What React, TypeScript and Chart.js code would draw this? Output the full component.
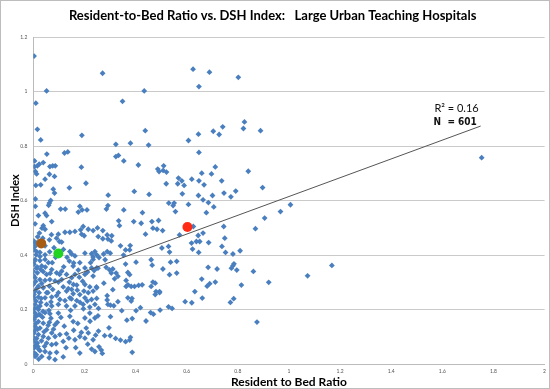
import React, { useEffect, useRef } from "react";
import { Chart, registerables } from "chart.js";

Chart.register(...registerables);

const chartTitle = "Resident-to-Bed Ratio vs. DSH Index:   Large Urban Teaching Hospitals";
const xAxisTitle = "Resident to Bed Ratio";
const yAxisTitle = "DSH Index";
const rSquaredLabel = "R\u00B2 = 0.16";
const countLabel = "N  = 601";

// Trendline endpoints
const trendX = [0, 1.75];
const trendY = [0.27, 0.874];

// Highlighted hospitals
const highlightX = [0.031, 0.098, 0.603];
const highlightY = [0.443, 0.406, 0.503];
const highlightColors = ["#a65c14", "#22d422", "#ff2b14"];

// Hospital points [resident-to-bed ratio, DSH index]
const upperBand: [number, number][] = [
  [0.003, 1.131], [0.01, 0.958], [0.052, 1.003], [0.016, 0.862], [0.029, 0.823], [0.271, 1.068],
  [0.349, 0.965], [0.434, 1.003], [0.438, 0.857], [0.451, 0.804], [0.323, 0.807], [0.38, 0.811],
  [0.19, 0.84], [0.625, 1.083], [0.648, 1.019], [0.607, 0.821], [0.646, 0.844], [0.053, 0.771],
  [0.005, 0.746], [0.005, 0.725], [0.016, 0.728], [0.008, 0.707], [0.013, 0.698], [0.023, 0.734],
  [0.039, 0.74], [0.065, 0.725], [0.076, 0.728], [0.086, 0.728], [0.063, 0.697], [0.083, 0.689],
  [0.046, 0.679], [0.01, 0.656], [0.029, 0.658], [0.078, 0.642], [0.083, 0.628], [0.141, 0.647],
  [0.122, 0.775], [0.135, 0.779], [0.188, 0.723], [0.206, 0.664], [0.008, 0.606], [0.008, 0.579],
  [0.063, 0.591], [0.06, 0.583], [0.068, 0.601], [0.107, 0.569], [0.125, 0.569], [0.182, 0.579],
  [0.21, 0.566], [0.293, 0.62], [0.292, 0.582], [0.286, 0.569], [0.323, 0.762], [0.333, 0.766],
  [0.354, 0.746], [0.411, 0.731], [0.395, 0.634], [0.453, 0.623], [0.487, 0.716], [0.492, 0.707],
  [0.51, 0.728], [0.508, 0.711], [0.521, 0.705], [0.52, 0.662], [0.53, 0.591], [0.551, 0.591],
  [0.568, 0.683], [0.565, 0.662], [0.581, 0.673], [0.59, 0.656], [0.583, 0.625], [0.607, 0.586],
  [0.62, 0.679], [0.648, 0.777], [0.648, 0.673], [0.646, 0.619], [0.354, 0.566],
  [0.689, 1.072], [0.802, 1.053], [0.704, 0.855], [0.727, 0.843], [0.741, 0.871], [0.822, 0.865],
  [0.826, 0.889], [0.889, 0.857], [0.712, 0.724], [0.659, 0.701], [0.697, 0.698], [0.668, 0.658],
  [0.737, 0.673], [0.841, 0.708], [0.701, 0.619], [0.664, 0.603], [0.685, 0.593], [0.746, 0.628],
  [0.773, 0.614], [0.792, 0.635], [0.897, 0.648], [0.706, 0.577], [1.006, 0.585],
];

const rightBand: [number, number][] = [
  [0.677, 0.556], [0.967, 0.56], [0.905, 0.536], [0.869, 0.497], [0.626, 0.505], [0.745, 0.505],
  [0.664, 0.481], [0.645, 0.472], [0.749, 0.462], [0.619, 0.444], [0.638, 0.45], [0.651, 0.45],
  [0.686, 0.446], [0.738, 0.432], [0.623, 0.422], [0.647, 0.41], [0.752, 0.41], [0.781, 0.404],
  [0.809, 0.416], [1.168, 0.362], [1.073, 0.324], [0.684, 0.355], [0.719, 0.349], [0.775, 0.352],
  [0.781, 0.361], [0.785, 0.368], [0.796, 0.345], [0.861, 0.34], [0.659, 0.312], [0.712, 0.301],
  [0.69, 0.295], [0.68, 0.286], [0.814, 0.29], [0.921, 0.3], [0.632, 0.266], [0.62, 0.225],
  [0.661, 0.242], [0.771, 0.226], [0.784, 0.24], [0.875, 0.154], [1.754, 0.758],
  [0.427, 0.556], [0.49, 0.527], [0.556, 0.56], [0.547, 0.582], [0.506, 0.49], [0.251, 0.5],
  [0.234, 0.49],
];

const centerBand: [number, number][] = [
  [0.334, 0.526], [0.337, 0.508], [0.393, 0.523], [0.422, 0.517], [0.464, 0.523], [0.468, 0.499],
  [0.484, 0.495], [0.272, 0.49], [0.289, 0.474], [0.307, 0.471], [0.292, 0.459], [0.305, 0.452],
  [0.272, 0.46], [0.439, 0.477], [0.341, 0.434], [0.379, 0.435], [0.361, 0.419], [0.377, 0.419],
  [0.289, 0.413], [0.301, 0.407], [0.275, 0.404], [0.353, 0.4], [0.503, 0.426], [0.529, 0.432],
  [0.533, 0.411], [0.572, 0.474], [0.257, 0.391], [0.281, 0.383], [0.402, 0.374], [0.361, 0.367],
  [0.461, 0.383], [0.465, 0.363], [0.537, 0.374], [0.561, 0.377], [0.285, 0.355], [0.298, 0.346],
  [0.311, 0.349], [0.305, 0.334], [0.324, 0.334], [0.331, 0.322], [0.37, 0.336], [0.377, 0.328],
  [0.318, 0.313], [0.363, 0.307], [0.37, 0.291], [0.507, 0.349], [0.533, 0.328], [0.561, 0.334],
  [0.468, 0.301], [0.477, 0.297], [0.276, 0.297], [0.311, 0.273], [0.363, 0.285], [0.383, 0.285],
  [0.396, 0.285], [0.412, 0.289], [0.426, 0.291], [0.461, 0.285], [0.48, 0.266], [0.494, 0.266],
  [0.253, 0.352],
];

const lowCenterBand: [number, number][] = [
  [0.289, 0.251], [0.289, 0.235], [0.302, 0.216], [0.315, 0.214], [0.292, 0.219], [0.331, 0.229],
  [0.37, 0.243], [0.383, 0.231], [0.386, 0.241], [0.346, 0.196], [0.402, 0.196], [0.419, 0.207],
  [0.477, 0.255], [0.494, 0.262], [0.459, 0.189], [0.47, 0.183], [0.496, 0.198], [0.529, 0.21],
  [0.543, 0.204], [0.594, 0.229], [0.255, 0.204], [0.253, 0.177], [0.302, 0.174], [0.366, 0.161],
  [0.387, 0.167], [0.441, 0.158], [0.296, 0.133], [0.255, 0.121], [0.279, 0.104], [0.301, 0.104],
  [0.322, 0.094], [0.341, 0.088], [0.361, 0.082], [0.38, 0.098], [0.377, 0.088], [0.257, 0.063],
  [0.266, 0.051], [0.27, 0.039], [0.387, 0.043],
];

const leftUpperCluster: [number, number][] = [
  [0.02, 0.545], [0.046, 0.554], [0.052, 0.545], [0.191, 0.566], [0.176, 0.558], [0.007, 0.515],
  [0.039, 0.508], [0.046, 0.495], [0.072, 0.523], [0.195, 0.505], [0.185, 0.493], [0.215, 0.495],
  [0.189, 0.477], [0.199, 0.471], [0.098, 0.477], [0.124, 0.484], [0.143, 0.484], [0.163, 0.487],
  [0.091, 0.462], [0.102, 0.45], [0.111, 0.448], [0.254, 0.468], [0.046, 0.434], [0.003, 0.419],
  [0.013, 0.413], [0.026, 0.41], [0.011, 0.401], [0.026, 0.395], [0.046, 0.401], [0.143, 0.413],
  [0.15, 0.404], [0.163, 0.397], [0.202, 0.407], [0.228, 0.405], [0.241, 0.413], [0.248, 0.401],
  [0.234, 0.393], [0.003, 0.444], [0.013, 0.444], [0.034, 0.499],
];

const leftMidCluster: [number, number][] = [
  [0.007, 0.384], [0.026, 0.38], [0.046, 0.384], [0.059, 0.372], [0.141, 0.378], [0.182, 0.372],
  [0.234, 0.384], [0.003, 0.366], [0.016, 0.356], [0.033, 0.36], [0.156, 0.36], [0.202, 0.353],
  [0.228, 0.353], [0.248, 0.353], [0.0, 0.341], [0.016, 0.335], [0.039, 0.339], [0.052, 0.329],
  [0.072, 0.347], [0.091, 0.335], [0.111, 0.341], [0.13, 0.329], [0.163, 0.329], [0.18, 0.319],
  [0.202, 0.329], [0.234, 0.323], [0.007, 0.317], [0.026, 0.31], [0.046, 0.307], [0.065, 0.31],
  [0.085, 0.305], [0.111, 0.31], [0.15, 0.317], [0.0, 0.292], [0.02, 0.286], [0.039, 0.28],
  [0.063, 0.286], [0.076, 0.274], [0.117, 0.283], [0.137, 0.277], [0.17, 0.29], [0.202, 0.292],
  [0.221, 0.283], [0.248, 0.28], [0.007, 0.268], [0.023, 0.262], [0.052, 0.262], [0.098, 0.262],
  [0.13, 0.268], [0.15, 0.274], [0.156, 0.258], [0.182, 0.255], [0.215, 0.262], [0.234, 0.268],
  [0.003, 0.243], [0.02, 0.246], [0.046, 0.243], [0.072, 0.246], [0.104, 0.237], [0.124, 0.233],
  [0.143, 0.243], [0.17, 0.233], [0.202, 0.243], [0.228, 0.237], [0.248, 0.241], [0.007, 0.219],
  [0.026, 0.213], [0.052, 0.219], [0.072, 0.213], [0.098, 0.219], [0.13, 0.213], [0.163, 0.213],
  [0.195, 0.219], [0.221, 0.209], [0.241, 0.219], [0.0, 0.194], [0.02, 0.2],
];

const leftLowCluster: [number, number][] = [
  [0.007, 0.187], [0.026, 0.181], [0.046, 0.189], [0.065, 0.185], [0.098, 0.187], [0.143, 0.175],
  [0.156, 0.156], [0.202, 0.169], [0.221, 0.187], [0.241, 0.169], [0.003, 0.163], [0.02, 0.156],
  [0.039, 0.15], [0.063, 0.153], [0.085, 0.144], [0.007, 0.138], [0.026, 0.132], [0.052, 0.126],
  [0.072, 0.114], [0.003, 0.114], [0.02, 0.108], [0.039, 0.101], [0.059, 0.095], [0.085, 0.101],
  [0.104, 0.108], [0.13, 0.111], [0.163, 0.089], [0.182, 0.101], [0.202, 0.095], [0.215, 0.114],
  [0.234, 0.089], [0.003, 0.083], [0.016, 0.077], [0.052, 0.077], [0.072, 0.071], [0.117, 0.083],
  [0.003, 0.059], [0.02, 0.055], [0.046, 0.046], [0.065, 0.04], [0.091, 0.043], [0.182, 0.04],
  [0.228, 0.055], [0.241, 0.046], [0.007, 0.028], [0.033, 0.028], [0.085, 0.016],
];

const leftDenseColumn: [number, number][] = [
  [0.002, 0.452], [0.006, 0.431], [0.004, 0.377], [0.012, 0.352], [0.001, 0.325], [0.009, 0.303],
  [0.014, 0.278], [0.003, 0.255], [0.011, 0.231], [0.017, 0.207], [0.004, 0.204], [0.012, 0.176],
  [0.001, 0.171], [0.009, 0.148], [0.016, 0.127], [0.005, 0.124], [0.013, 0.094], [0.002, 0.097],
  [0.008, 0.068], [0.018, 0.064], [0.004, 0.041], [0.012, 0.034], [0.022, 0.181], [0.029, 0.226],
  [0.033, 0.296], [0.031, 0.241], [0.036, 0.172], [0.042, 0.118], [0.044, 0.065], [0.057, 0.262],
  [0.061, 0.197], [0.069, 0.168], [0.079, 0.128], [0.089, 0.074], [0.094, 0.153], [0.108, 0.171],
  [0.121, 0.139], [0.128, 0.06], [0.139, 0.095], [0.146, 0.197], [0.158, 0.124], [0.166, 0.06],
  [0.174, 0.149], [0.188, 0.116], [0.196, 0.203], [0.207, 0.132], [0.213, 0.073], [0.222, 0.157],
  [0.244, 0.106], [0.247, 0.283], [0.238, 0.343], [0.224, 0.372], [0.212, 0.338], [0.193, 0.304],
  [0.176, 0.345], [0.158, 0.371], [0.132, 0.392], [0.119, 0.357], [0.087, 0.392], [0.074, 0.372],
  [0.064, 0.412], [0.081, 0.427], [0.118, 0.421], [0.063, 0.456], [0.071, 0.475], [0.024, 0.481],
  [0.017, 0.467], [0.037, 0.462], [0.029, 0.347], [0.047, 0.356], [0.066, 0.333], [0.098, 0.301],
  [0.103, 0.329], [0.141, 0.301], [0.157, 0.292], [0.172, 0.271], [0.198, 0.268], [0.211, 0.231],
  [0.183, 0.226], [0.149, 0.239], [0.091, 0.251], [0.069, 0.228], [0.038, 0.193], [0.058, 0.142],
  [0.032, 0.085], [0.026, 0.049], [0.117, 0.026], [0.062, 0.023], [0.021, 0.018],
];

const FONT = "Lato, 'Open Sans', sans-serif";

const decorPlugin = {
  id: "decor",
  afterDraw(chart: any) {
    const ctx = chart.ctx as CanvasRenderingContext2D;
    const xs = chart.scales.x;
    const ys = chart.scales.y;
    ctx.save();
    ctx.fillStyle = "#111";
    ctx.textAlign = "left";
    ctx.textBaseline = "middle";
    ctx.font = `11px ${FONT}`;
    ctx.fillText(rSquaredLabel, xs.getPixelForValue(1.569), ys.getPixelForValue(0.937));
    ctx.font = `bold 10px 'Liberation Sans Narrow', 'DejaVu Sans Condensed', ${FONT}`;
    ctx.fillText(countLabel, xs.getPixelForValue(1.566), ys.getPixelForValue(0.889));
    ctx.strokeStyle = "#bdbdbd";
    ctx.lineWidth = 1;
    ctx.strokeRect(0.5, 0.5, chart.width - 1, chart.height - 1);
    ctx.restore();
  },
};

export default function App() {
  const canvasRef = useRef<HTMLCanvasElement | null>(null);

  useEffect(() => {
    const canvas = canvasRef.current;
    if (!canvas) return;
    const hospitals = [
      ...upperBand, ...rightBand, ...centerBand, ...lowCenterBand,
      ...leftUpperCluster, ...leftMidCluster, ...leftLowCluster, ...leftDenseColumn,
    ].map(([x, y]) => ({ x, y }));
    const fmt = (v: any) => String(Number(Number(v).toFixed(1)));

    const chart = new Chart(canvas, {
      type: "scatter",
      data: {
        datasets: [
          {
            label: "Highlighted",
            data: highlightX.map((x, i) => ({ x, y: highlightY[i] })),
            pointStyle: "circle",
            pointRadius: 5,
            pointBackgroundColor: highlightColors,
            pointBorderColor: highlightColors,
            pointBorderWidth: 0,
            order: 0,
          } as any,
          {
            label: "Trend",
            data: trendX.map((x, i) => ({ x, y: trendY[i] })),
            showLine: true,
            borderColor: "#555555",
            borderWidth: 1,
            pointRadius: 0,
            fill: false,
            order: 1,
          } as any,
          {
            label: "Hospitals",
            data: hospitals,
            pointStyle: "rectRot",
            pointRadius: 2.9,
            backgroundColor: "#4a7fbf",
            borderColor: "#4a7fbf",
            borderWidth: 0,
            order: 2,
          } as any,
        ],
      },
      options: {
        responsive: false,
        animation: false,
        layout: { padding: { left: 0, right: 4.7, top: 0, bottom: 0 } },
        plugins: {
          legend: { display: false },
          tooltip: { enabled: false },
          title: {
            display: true,
            text: chartTitle,
            color: "#000",
            font: { family: FONT, size: 13, weight: "bold" },
            padding: { top: 8, bottom: 13.7 },
          },
        },
        scales: {
          x: {
            type: "linear",
            min: 0,
            max: 2,
            ticks: { stepSize: 0.2, font: { family: FONT, size: 5 }, color: "#555", padding: 4, callback: fmt },
            grid: { display: false, drawTicks: false },
            border: { display: true, color: "#bbbbbb" },
            title: {
              display: true,
              text: xAxisTitle,
              color: "#000",
              font: { family: FONT, size: 12, weight: "bold" },
              padding: { top: 0, bottom: 0 },
            },
            afterFit: (s: any) => { s.height = 25; },
          },
          y: {
            type: "linear",
            min: 0,
            max: 1.2,
            ticks: { stepSize: 0.2, font: { family: FONT, size: 5 }, color: "#555", padding: 6, callback: fmt },
            grid: { color: "#cacaca", drawTicks: false },
            border: { display: true, color: "#bbbbbb" },
            title: {
              display: true,
              text: yAxisTitle,
              color: "#000",
              font: { family: FONT, size: 11, weight: "bold" },
              padding: { top: 9, bottom: 0 },
            },
            afterFit: (s: any) => { s.width = 33.3; },
          },
        },
      } as any,
      plugins: [decorPlugin],
    });
    return () => chart.destroy();
  }, []);

  return (
    <div style={{ position: "absolute", left: 0, top: 0, width: 550, height: 389, background: "#fff" }}>
      <canvas ref={canvasRef} width={550} height={389} style={{ width: 550, height: 389, display: "block" }} />
    </div>
  );
}
